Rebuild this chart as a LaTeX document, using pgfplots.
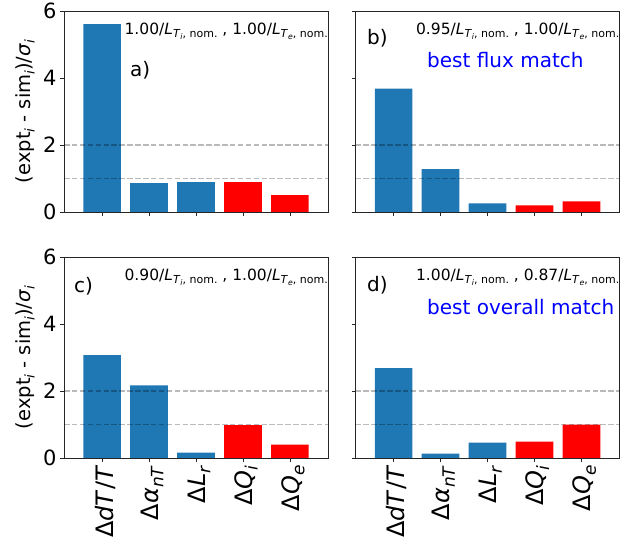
\documentclass[border=0pt]{standalone}
\usepackage{fontspec}
\setmainfont{DejaVu Sans}
\usepackage{pgfplots}
\pgfplotsset{compat=1.18}
\definecolor{mplblue}{RGB}{31,119,180}
\definecolor{mplred}{RGB}{255,0,0}
\newcommand{\fs}[1]{\fontsize{#1}{#1}\selectfont}
\newcommand{\LT}[1]{\textit{L}\raisebox{-3pt}{\fs{11}\textit{T}\raisebox{-1.9pt}{\fs{7.8}\textit{#1}}, nom.}}
\newcommand{\msub}[1]{\raisebox{-0.22em}{\fs{17}#1}}
\newcommand{\ysub}[1]{\raisebox{-0.22em}{\fs{13.5}#1}}
\pgfplotstableread{
x y
0 5.61
1 0.86
2 0.89
3 0.89
4 0.50
}\dataA
\pgfplotstableread{
x y
0 3.68
1 1.28
2 0.26
3 0.20
4 0.32
}\dataB
\pgfplotstableread{
x y
0 3.07
1 2.17
2 0.16
3 0.98
4 0.40
}\dataC
\pgfplotstableread{
x y
0 2.68
1 0.13
2 0.46
3 0.49
4 1.00
}\dataD
\pgfplotsset{
  panel/.style={
    scale only axis, width=264pt, height=201pt,
    anchor=south west,
    xmin=-0.81, xmax=4.81, ymin=0, ymax=6,
    xtick={0,1,2,3,4}, ytick={0,2,4,6},
    tick pos=left, tick align=outside,
    major tick length=4pt,
    axis line style={line width=0.8pt, black!85},
    every tick/.style={line width=0.8pt, black!85},
    yticklabel style={font=\fs{21}},
    /pgf/number format/assume math mode=true,
    xticklabel style={font=\fs{24}, rotate=90, anchor=east, yshift=-3pt},
    every axis y label/.style={at={(rel axis cs:0,0.5)}, xshift=-39pt, rotate=90, anchor=center, font=\fs{19.5}},
  },
  xlabs/.style={xticklabels={Δ\textit{dT}/\textit{T}, Δ\textit{α}\msub{\textit{nT}}, Δ\textit{L}\msub{\textit{r}}, Δ\textit{Q}\msub{\textit{i}}, Δ\textit{Q}\msub{\textit{e}}}},
  bluebar/.style={ybar, bar width=0.8, bar shift=0pt, fill=mplblue, draw=none},
  redbar/.style={ybar, bar width=0.8, bar shift=0pt, fill=mplred, draw=none},
  refline/.style={black, opacity=0.27, line width=1.5pt, dash pattern=on 5.5pt off 2.4pt},
}
\newcommand{\bars}[1]{%
  \addplot[bluebar] table[x=x,y=y,restrict x to domain=0:2] {#1};
  \addplot[redbar] table[x=x,y=y,restrict x to domain=3:4] {#1};
  \addplot[refline] coordinates {(-0.81,1) (4.81,1)};
  \addplot[refline] coordinates {(-0.81,2) (4.81,2)};
}
\begin{document}
\begin{tikzpicture}
\useasboundingbox (0,0) rectangle (636pt,540pt);
\begin{axis}[panel, at={(64pt,328pt)}, xticklabels={},
  ylabel={(expt\ysub{\textit{i}} - sim\ysub{\textit{i}})/\textit{σ}\ysub{\textit{i}}}]
\bars{\dataA}
\end{axis}
\begin{axis}[panel, at={(355.5pt,328pt)}, xticklabels={}, yticklabels={}]
\bars{\dataB}
\end{axis}
\begin{axis}[panel, at={(64pt,82pt)}, xlabs,
  ylabel={(expt\ysub{\textit{i}} - sim\ysub{\textit{i}})/\textit{σ}\ysub{\textit{i}}}]
\bars{\dataC}
\end{axis}
\begin{axis}[panel, at={(355.5pt,82pt)}, xlabs, yticklabels={}]
\bars{\dataD}
\end{axis}
\node[anchor=base east, inner sep=0pt, font=\fs{15.5}] at (328pt,505pt) {1.00/\LT{i} , 1.00/\LT{e}};
\node[anchor=base west, inner sep=0pt, font=\fs{20}] at (130pt,463pt) {a)};
\node[anchor=base east, inner sep=0pt, font=\fs{15.5}] at (619.5pt,505pt) {0.95/\LT{i} , 1.00/\LT{e}};
\node[anchor=base west, inner sep=0pt, font=\fs{20}] at (367pt,495pt) {b)};
\node[anchor=base west, inner sep=0pt, font=\fs{20}, text=blue] at (427pt,472pt) {best flux match};
\node[anchor=base east, inner sep=0pt, font=\fs{15.5}] at (328pt,259pt) {0.90/\LT{i} , 1.00/\LT{e}};
\node[anchor=base west, inner sep=0pt, font=\fs{20}] at (74pt,247pt) {c)};
\node[anchor=base east, inner sep=0pt, font=\fs{15.5}] at (619.5pt,259pt) {1.00/\LT{i} , 0.87/\LT{e}};
\node[anchor=base west, inner sep=0pt, font=\fs{20}] at (367pt,248pt) {d)};
\node[anchor=base west, inner sep=0pt, font=\fs{20}, text=blue] at (427pt,225pt) {best overall match};
\end{tikzpicture}
\end{document}
